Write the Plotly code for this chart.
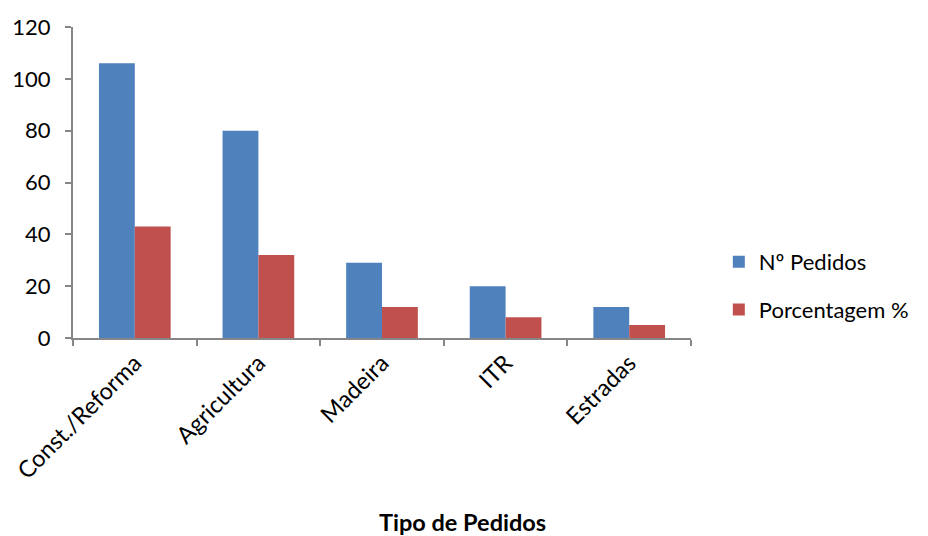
import plotly.graph_objects as go

categorias = ["Const./Reforma", "Agricultura", "Madeira", "ITR", "Estradas"]
pedidos = [106, 80, 29, 20, 12]
porcentagem = [43, 32, 12, 8, 5]
ticks_y = [0, 20, 40, 60, 80, 100, 120]

AZUL = "#4F81BD"
VERMELHO = "#C0504D"
CINZA = "#868686"
FONTE = "Lato, Carlito, Calibri, sans-serif"

fig = go.Figure()
fig.add_trace(go.Bar(x=categorias, y=pedidos, name="Nº Pedidos",
                     marker=dict(color=AZUL, line=dict(width=0)),
                     legendgroup="a"))
fig.add_trace(go.Bar(x=categorias, y=porcentagem, name="Porcentagem %",
                     marker=dict(color=VERMELHO, line=dict(width=0)),
                     legendgroup="b"))

fig.update_layout(
    width=928, height=536,
    margin=dict(l=73, r=237, t=27, b=198),
    paper_bgcolor="white", plot_bgcolor="white",
    font=dict(family=FONTE, size=22, color="black"),
    barmode="group", bargap=0.42, bargroupgap=0,
    showlegend=True,
    legend=dict(x=1.045, y=0.167, xanchor="left", yanchor="middle",
                font=dict(size=22), tracegroupgap=16,
                bgcolor="rgba(0,0,0,0)"),
    xaxis=dict(showline=True, linecolor=CINZA, linewidth=2,
               ticks="outside", tickson="boundaries", ticklen=6,
               tickcolor=CINZA, tickwidth=2, tickangle=-45,
               showgrid=False, tickfont=dict(size=23.5)),
    yaxis=dict(range=[0, 120], tickvals=ticks_y, showline=True,
               linecolor=CINZA, linewidth=2, ticks="outside", ticklen=6,
               tickcolor=CINZA, tickwidth=2, showgrid=False, zeroline=False,
               tickfont=dict(size=22), ticklabelstandoff=10),
    annotations=[dict(text="<b>Tipo de Pedidos</b>", xref="paper",
                      yref="paper", x=0.631, y=-0.592, xanchor="center",
                      yanchor="middle", showarrow=False,
                      font=dict(size=23.5))],
)

fig.write_html("out.html")
